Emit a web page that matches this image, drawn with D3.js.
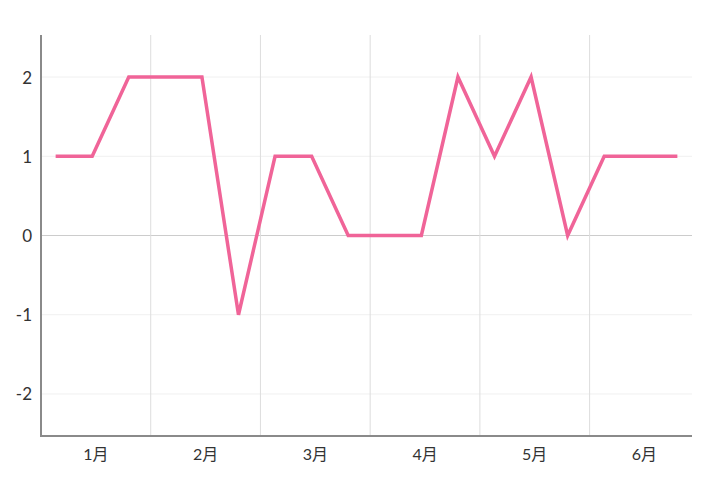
<!DOCTYPE html>
<html>
<head>
<meta charset="utf-8">
<script src="https://cdn.jsdelivr.net/npm/d3@7/dist/d3.min.js"></script>
<style>
  html, body { margin: 0; padding: 0; background: #fff; }
  svg { display: block; }
  text { font-family: "Lato", "Noto Sans CJK SC", sans-serif; }
</style>
</head>
<body>
<svg id="chart" width="720" height="489"></svg>
<script>
// ---- data ----
const months = ["1月", "2月", "3月", "4月", "5月", "6月"];
const pointDays = [4, 14, 24]; // day offsets of the three samples in each month
const values = [1, 1, 2, 2, 2, -1, 1, 1, 0, 0, 0, 2, 1, 2, 0, 1, 1, 1];
const yTicks = [-2, -1, 0, 1, 2];

// ---- layout ----
const svg = d3.select("#chart");
const mLeft = 41, mRight = 692, mTop = 35, mBottom = 436;
const monthLen = 30;

const x = d3.scaleLinear().domain([0, 178]).range([mLeft, mRight]);
const y = d3.scaleLinear().domain([-2.53, 2.53]).range([mBottom, mTop]);

const pts = values.map((v, i) => ({
  day: Math.floor(i / 3) * monthLen + pointDays[i % 3],
  v
}));

// horizontal grid
svg.append("g").selectAll("line").data(yTicks).join("line")
  .attr("x1", mLeft).attr("x2", mRight)
  .attr("y1", d => y(d)).attr("y2", d => y(d))
  .attr("stroke", d => d === 0 ? "#cccccc" : "#f0f0f0")
  .attr("stroke-width", 1);

// vertical month grid
const monthStarts = months.slice(1).map((m, i) => (i + 1) * monthLen);
svg.append("g").selectAll("line").data(monthStarts).join("line")
  .attr("x1", d => x(d)).attr("x2", d => x(d))
  .attr("y1", mTop).attr("y2", mBottom)
  .attr("stroke", "#dddddd")
  .attr("stroke-width", 1);

// axes lines
svg.append("line").attr("x1", mLeft).attr("x2", mLeft).attr("y1", mTop).attr("y2", mBottom + 1)
  .attr("stroke", "#8a8a8a").attr("stroke-width", 2);
svg.append("line").attr("x1", mLeft - 1).attr("x2", mRight).attr("y1", mBottom).attr("y2", mBottom)
  .attr("stroke", "#8a8a8a").attr("stroke-width", 2);

// y tick labels
svg.append("g").selectAll("text").data(yTicks).join("text")
  .attr("x", 32).attr("y", d => y(d))
  .attr("text-anchor", "end").attr("dominant-baseline", "central")
  .attr("font-size", 17).attr("fill", "#333")
  .text(d => d);

// x month labels
svg.append("g").selectAll("text").data(months).join("text")
  .attr("x", (d, i) => x(i * monthLen + 15))
  .attr("y", 453)
  .attr("text-anchor", "middle").attr("dominant-baseline", "central")
  .attr("font-size", 16).attr("fill", "#333")
  .text(d => d);

// line
const line = d3.line().x(d => x(d.day)).y(d => y(d.v));
svg.append("path").datum(pts)
  .attr("d", line)
  .attr("fill", "none")
  .attr("stroke", "#f06498")
  .attr("stroke-width", 3.5)
  .attr("stroke-linejoin", "miter");
</script>
</body>
</html>
